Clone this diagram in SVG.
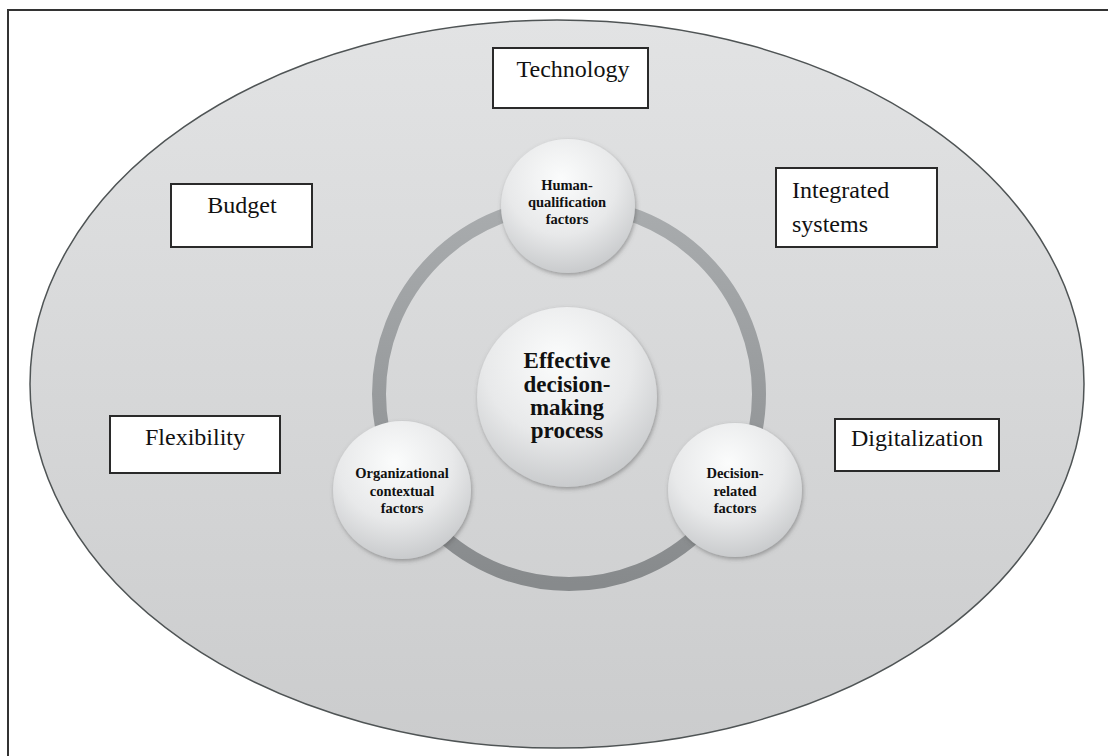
<svg xmlns="http://www.w3.org/2000/svg" width="1108" height="756" viewBox="0 0 1108 756">
  <defs>
    <linearGradient id="ellGrad" x1="0" y1="0" x2="0" y2="1">
      <stop offset="0" stop-color="#e2e3e4"/>
      <stop offset="1" stop-color="#cbcccd"/>
    </linearGradient>
    <radialGradient id="circGrad" cx="0.45" cy="0.3" r="0.75">
      <stop offset="0" stop-color="#fbfcfc"/>
      <stop offset="0.55" stop-color="#e8e9ea"/>
      <stop offset="1" stop-color="#c4c6c8"/>
    </radialGradient>
    <linearGradient id="ringGrad" x1="0" y1="0" x2="0" y2="1">
      <stop offset="0" stop-color="#a9acae"/>
      <stop offset="1" stop-color="#878a8c"/>
    </linearGradient>
    <filter id="shadow" x="-20%" y="-20%" width="140%" height="140%">
      <feDropShadow dx="1" dy="2" stdDeviation="2" flood-color="#555" flood-opacity="0.5"/>
    </filter>
  </defs>
  <style>
    .box { fill: #ffffff; stroke: #2a2a2a; stroke-width: 2; }
    .boxtxt { font-family: "Liberation Serif", "Times New Roman", serif; font-size: 24px; fill: #111; }
    .circ { fill: url(#circGrad); filter: url(#shadow); }
    .ctxt { font-family: "Liberation Serif", "Times New Roman", serif; font-weight: bold; font-size: 14.5px; fill: #111; text-anchor: middle; }
    .bigtxt { font-family: "Liberation Serif", "Times New Roman", serif; font-weight: bold; font-size: 23px; fill: #111; text-anchor: middle; }
  </style>
  <rect x="0" y="0" width="1108" height="756" fill="#ffffff"/>
  <g id="frame">
    <path d="M8,756 L8,10 L1108,10" fill="none" stroke="#333" stroke-width="2"/>
  </g>
  <g id="environment">
    <ellipse cx="557" cy="384" rx="527" ry="364" fill="url(#ellGrad)" stroke="#4f5455" stroke-width="1.5"/>
  </g>
  <g id="connectors">
    <circle cx="569" cy="394" r="190" fill="none" stroke="url(#ringGrad)" stroke-width="14"/>
  </g>
  <g id="center-node">
    <circle class="circ" cx="567" cy="397" r="90"/>
    <text class="bigtxt" x="567" y="368">Effective</text>
    <text class="bigtxt" x="567" y="392">decision-</text>
    <text class="bigtxt" x="567" y="415">making</text>
    <text class="bigtxt" x="567" y="438">process</text>
  </g>
  <g id="human-node">
    <circle class="circ" cx="568" cy="206" r="67"/>
    <text class="ctxt" x="567" y="190">Human-</text>
    <text class="ctxt" x="567" y="207">qualification</text>
    <text class="ctxt" x="567" y="224">factors</text>
  </g>
  <g id="org-node">
    <circle class="circ" cx="402" cy="490" r="69"/>
    <text class="ctxt" x="402" y="478">Organizational</text>
    <text class="ctxt" x="402" y="496">contextual</text>
    <text class="ctxt" x="402" y="513">factors</text>
  </g>
  <g id="decision-node">
    <circle class="circ" cx="735" cy="490" r="67"/>
    <text class="ctxt" x="735" y="478">Decision-</text>
    <text class="ctxt" x="735" y="496">related</text>
    <text class="ctxt" x="735" y="513">factors</text>
  </g>
  <g id="technology">
    <rect class="box" x="493" y="48" width="155" height="60"/>
    <text class="boxtxt" x="573" y="77" text-anchor="middle">Technology</text>
  </g>
  <g id="budget">
    <rect class="box" x="171" y="184" width="141" height="63"/>
    <text class="boxtxt" x="242" y="213" text-anchor="middle">Budget</text>
  </g>
  <g id="integrated">
    <rect class="box" x="776" y="168" width="161" height="79"/>
    <text class="boxtxt" x="792" y="198">Integrated</text>
    <text class="boxtxt" x="792" y="232">systems</text>
  </g>
  <g id="flexibility">
    <rect class="box" x="110" y="416" width="170" height="57"/>
    <text class="boxtxt" x="195" y="445" text-anchor="middle">Flexibility</text>
  </g>
  <g id="digitalization">
    <rect class="box" x="835" y="419" width="164" height="52"/>
    <text class="boxtxt" x="917" y="446" text-anchor="middle">Digitalization</text>
  </g>
</svg>
